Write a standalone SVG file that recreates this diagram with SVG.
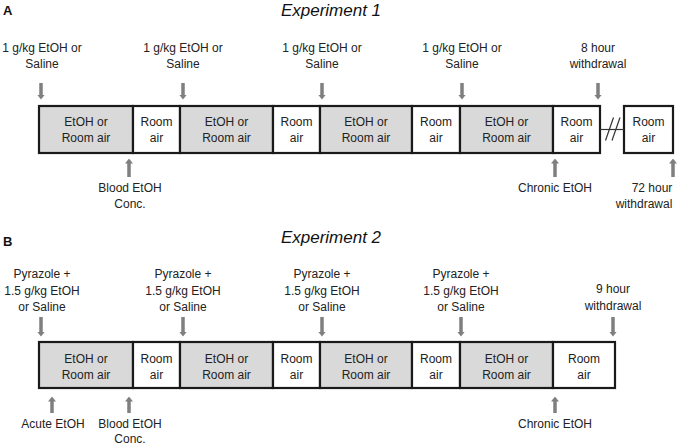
<svg xmlns="http://www.w3.org/2000/svg" width="680" height="447" viewBox="0 0 680 447">
<style>
  .t{font-family:"Liberation Sans",Arial,sans-serif;font-size:12px;fill:#222;text-anchor:middle}
  .ttl{font-family:"Liberation Sans",Arial,sans-serif;font-size:17px;font-style:italic;fill:#111;text-anchor:middle}
  .pl{font-family:"Liberation Sans",Arial,sans-serif;font-size:13px;font-weight:bold;fill:#111}
  .g{fill:#d9d9d9;stroke:#1a1a1a;stroke-width:2.2}
  .w{fill:#fff;stroke:#1a1a1a;stroke-width:2.2}
  .ar{stroke:#7f7f7f;stroke-width:3.5;fill:none;marker-end:url(#ah)}
  .brk{stroke:#333;stroke-width:1.2;fill:none}
</style>
<defs>
  <marker id="ah" markerUnits="userSpaceOnUse" markerWidth="5" markerHeight="8" refX="0.5" refY="4" orient="auto" viewBox="0 0 5 8">
    <path d="M0,0 L5,4 L0,8 Z" fill="#7f7f7f"/>
  </marker>
</defs>
<rect width="680" height="447" fill="#fff"/>

<g id="panelA">
  <text class="pl" x="3" y="15">A</text>
  <text class="ttl" x="331" y="16">Experiment 1</text>
</g>

<!-- Panel A boxes -->
<g id="A-box1"><rect class="g" x="39" y="106" width="94" height="47"/><text class="t" x="86" y="126">EtOH or</text><text class="t" x="86" y="142">Room air</text></g>
<g id="A-box2"><rect class="w" x="133" y="106" width="47" height="47"/><text class="t" x="156.5" y="126">Room</text><text class="t" x="156.5" y="142">air</text></g>
<g id="A-box3"><rect class="g" x="180" y="106" width="93" height="47"/><text class="t" x="226.5" y="126">EtOH or</text><text class="t" x="226.5" y="142">Room air</text></g>
<g id="A-box4"><rect class="w" x="273" y="106" width="47" height="47"/><text class="t" x="296.5" y="126">Room</text><text class="t" x="296.5" y="142">air</text></g>
<g id="A-box5"><rect class="g" x="320" y="106" width="92" height="47"/><text class="t" x="366" y="126">EtOH or</text><text class="t" x="366" y="142">Room air</text></g>
<g id="A-box6"><rect class="w" x="412" y="106" width="48" height="47"/><text class="t" x="436" y="126">Room</text><text class="t" x="436" y="142">air</text></g>
<g id="A-box7"><rect class="g" x="460" y="106" width="93" height="47"/><text class="t" x="506.5" y="126">EtOH or</text><text class="t" x="506.5" y="142">Room air</text></g>
<g id="A-box8"><rect class="w" x="553" y="106" width="47" height="47"/><text class="t" x="576.5" y="126">Room</text><text class="t" x="576.5" y="142">air</text></g>
<g id="A-box9"><rect class="w" x="624" y="106" width="49" height="47"/><text class="t" x="648.5" y="126">Room</text><text class="t" x="648.5" y="142">air</text></g>

<!-- Panel A labels -->
<g id="A-lbl1"><text class="t" x="42" y="52">1 g/kg EtOH or</text><text class="t" x="42" y="68">Saline</text></g>
<g id="A-lbl2"><text class="t" x="183" y="52">1 g/kg EtOH or</text><text class="t" x="183" y="68">Saline</text></g>
<g id="A-lbl3"><text class="t" x="322" y="52">1 g/kg EtOH or</text><text class="t" x="322" y="68">Saline</text></g>
<g id="A-lbl4"><text class="t" x="462" y="52">1 g/kg EtOH or</text><text class="t" x="462" y="68">Saline</text></g>
<g id="A-lbl5"><text class="t" x="598" y="52">8 hour</text><text class="t" x="598" y="68">withdrawal</text></g>
<g id="A-lbl6"><text class="t" x="130" y="192">Blood EtOH</text><text class="t" x="130" y="208">Conc.</text></g>
<g id="A-lbl7"><text class="t" x="555" y="192">Chronic EtOH</text></g>
<g id="A-lbl8"><text class="t" x="652" y="192">72 hour</text><text class="t" x="644" y="208">withdrawal</text></g>

<g id="panelB">
  <text class="pl" x="3" y="246">B</text>
  <text class="ttl" x="331" y="243">Experiment 2</text>
</g>

<!-- Panel B boxes -->
<g id="B-box1"><rect class="g" x="39" y="342" width="94" height="46"/><text class="t" x="86" y="362.5">EtOH or</text><text class="t" x="86" y="378.5">Room air</text></g>
<g id="B-box2"><rect class="w" x="133" y="342" width="47" height="46"/><text class="t" x="156.5" y="362.5">Room</text><text class="t" x="156.5" y="378.5">air</text></g>
<g id="B-box3"><rect class="g" x="180" y="342" width="93" height="46"/><text class="t" x="226.5" y="362.5">EtOH or</text><text class="t" x="226.5" y="378.5">Room air</text></g>
<g id="B-box4"><rect class="w" x="273" y="342" width="47" height="46"/><text class="t" x="296.5" y="362.5">Room</text><text class="t" x="296.5" y="378.5">air</text></g>
<g id="B-box5"><rect class="g" x="320" y="342" width="92" height="46"/><text class="t" x="366" y="362.5">EtOH or</text><text class="t" x="366" y="378.5">Room air</text></g>
<g id="B-box6"><rect class="w" x="412" y="342" width="48" height="46"/><text class="t" x="436" y="362.5">Room</text><text class="t" x="436" y="378.5">air</text></g>
<g id="B-box7"><rect class="g" x="460" y="342" width="93" height="46"/><text class="t" x="506.5" y="362.5">EtOH or</text><text class="t" x="506.5" y="378.5">Room air</text></g>
<g id="B-box8"><rect class="w" x="553" y="342" width="62" height="46"/><text class="t" x="584" y="362.5">Room</text><text class="t" x="584" y="378.5">air</text></g>

<!-- Panel B labels -->
<g id="B-lbl1"><text class="t" x="42" y="278">Pyrazole +</text><text class="t" x="42" y="295">1.5 g/kg EtOH</text><text class="t" x="42" y="311">or Saline</text></g>
<g id="B-lbl2"><text class="t" x="183" y="278">Pyrazole +</text><text class="t" x="183" y="295">1.5 g/kg EtOH</text><text class="t" x="183" y="311">or Saline</text></g>
<g id="B-lbl3"><text class="t" x="322" y="278">Pyrazole +</text><text class="t" x="322" y="295">1.5 g/kg EtOH</text><text class="t" x="322" y="311">or Saline</text></g>
<g id="B-lbl4"><text class="t" x="461" y="278">Pyrazole +</text><text class="t" x="461" y="295">1.5 g/kg EtOH</text><text class="t" x="461" y="311">or Saline</text></g>
<g id="B-lbl5"><text class="t" x="613" y="293">9 hour</text><text class="t" x="613" y="310">withdrawal</text></g>
<g id="B-lbl6"><text class="t" x="53" y="428">Acute EtOH</text></g>
<g id="B-lbl7"><text class="t" x="130" y="428">Blood EtOH</text><text class="t" x="130" y="443">Conc.</text></g>
<g id="B-lbl8"><text class="t" x="555" y="428">Chronic EtOH</text></g>

<!-- Connectors -->
<g id="connectors">
  <path class="brk" d="M600,129.5 H624"/>
  <path class="brk" d="M605.5,140.5 L613.5,117.5 M612,140.5 L620,117.5"/>
  <path class="ar" d="M41,83 V95"/>
  <path class="ar" d="M183,83 V95"/>
  <path class="ar" d="M322,83 V95"/>
  <path class="ar" d="M462,83 V95"/>
  <path class="ar" d="M598,83 V95"/>
  <path class="ar" d="M129,177 V163"/>
  <path class="ar" d="M555,177 V163"/>
  <path class="ar" d="M673,177 V163"/>
  <path class="ar" d="M41,317 V332"/>
  <path class="ar" d="M183,317 V332"/>
  <path class="ar" d="M322,317 V332"/>
  <path class="ar" d="M461,317 V332"/>
  <path class="ar" d="M613,317 V332"/>
  <path class="ar" d="M52,413 V401"/>
  <path class="ar" d="M129,413 V401"/>
  <path class="ar" d="M555,413 V401"/>
</g>
</svg>
